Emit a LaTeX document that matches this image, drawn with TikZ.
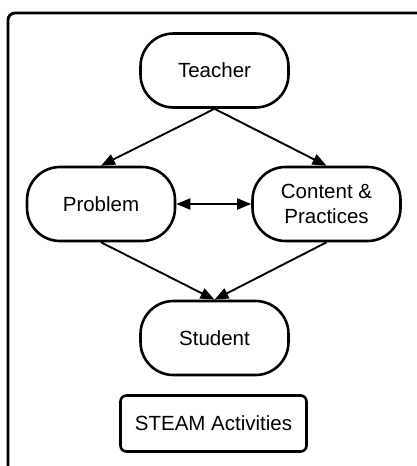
\documentclass[tikz,border=0pt]{standalone}
\usepackage{fontspec}
\setmainfont{Liberation Sans}
\usetikzlibrary{arrows.meta}

\begin{document}
\begin{tikzpicture}[x=1pt,y=-1pt]
%%%%%%%%%%%%%%%%%%%%%%%%%%%%%%%%%%%%%%%%%%%%%%%%%%%%%%%%
% STYLE
\tikzstyle{actor}=[rectangle,draw,line width=2.6pt,rounded corners=33pt,minimum width=148pt,minimum height=74pt,align=center,font=\fontsize{20.5}{25}\selectfont]
\tikzstyle{label}=[rectangle,draw,line width=2.6pt,rounded corners=6pt,minimum width=186pt,minimum height=56pt,font=\fontsize{20.5}{25}\selectfont]
\tikzstyle{frame}=[line width=2.8pt,rounded corners=7pt]

\tikzset{link/.style={->,line width=1.9pt,>={Triangle[length=14pt,width=11pt]}}}

\clip (0,0) rectangle (417,466);

%%%%%%%%%%%%%%%%%%%%%%%%%%%%%%%%%%%%%%%%%%%%%%%%%%%%%%%%
% FRAME
\draw[frame] (8,480) -- (8,13) -- (430,13);

%%%%%%%%%%%%%%%%%%%%%%%%%%%%%%%%%%%%%%%%%%%%%%%%%%%%%%%%
% NODES
\node[actor] (teacher) at (214.5, 70.5) {Teacher};
\node[actor] (problem) at (101, 204) {Problem};
\node[actor] (content) at (326.5, 204) {Content \&\\Practices};
\node[actor] (student) at (214.5, 338) {Student};
\node[label] (steam) at (213.5, 423.5) {STEAM Activities};

%%%%%%%%%%%%%%%%%%%%%%%%%%%%%%%%%%%%%%%%%%%%%%%%%%%%%%%%
% LINKS
\draw[link] (teacher.south) -- (problem.north);
\draw[link] (teacher.south) -- (content.north);
\draw[link] (problem.south) -- (student.north);
\draw[link] (content.south) -- (student.north);
\draw[link,<->] (problem.east) -- (content.west);

\end{tikzpicture}
\end{document}
